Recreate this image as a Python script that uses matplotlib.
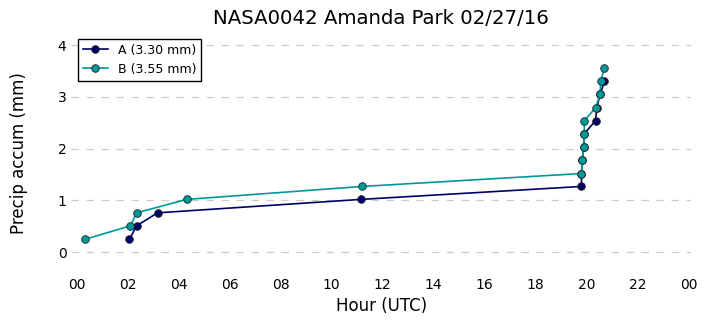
import matplotlib

matplotlib.use('Agg')
import matplotlib.pyplot as plt

# gauge A
A_HOURS = [2.08, 2.36, 3.18, 11.15, 19.80, 19.80, 19.83, 19.88, 19.91, 20.35, 20.40, 20.53, 20.70]
A_ACCUM = [0.25, 0.51, 0.76, 1.02, 1.27, 1.52, 1.78, 2.03, 2.29, 2.54, 2.79, 3.05, 3.30]

# gauge B
B_HOURS = [0.35, 2.12, 2.36, 4.32, 11.20, 19.80, 19.83, 19.88, 19.91, 19.91, 20.35, 20.53, 20.55, 20.70]
B_ACCUM = [0.25, 0.51, 0.76, 1.02, 1.27, 1.52, 1.78, 2.03, 2.29, 2.54, 2.79, 3.05, 3.30, 3.56]

LABELS = ["A (3.30 mm)", "B (3.55 mm)"]
X_TICKS = list(range(0, 25, 2))
X_TICKLABELS = ["00", "02", "04", "06", "08", "10", "12", "14", "16", "18", "20", "22", "00"]
Y_TICKS = [0, 1, 2, 3, 4]

fig = plt.figure(figsize=(7.06, 3.26), dpi=100)
ax = fig.add_axes([0.101, 0.163, 0.878, 0.738])

ax.plot(A_HOURS, A_ACCUM, '-o', color='#000066', markersize=5.5, linewidth=1.2,
        markeredgecolor='#222222', markeredgewidth=0.6, label=LABELS[0])
ax.plot(B_HOURS, B_ACCUM, '-o', color='#009999', markersize=5.5, linewidth=1.2,
        markeredgecolor='#222222', markeredgewidth=0.6, label=LABELS[1])

ax.set_xlim(-0.2, 24.1)
ax.set_ylim(-0.4, 4.25)
ax.set_xticks(X_TICKS)
ax.set_xticklabels(X_TICKLABELS)
ax.set_yticks(Y_TICKS)
ax.tick_params(length=0, pad=3.5, labelsize=10)
for s in ax.spines.values():
    s.set_visible(False)
ax.yaxis.grid(True, linestyle=(0, (6, 6)), color='#cccccc', linewidth=0.9)
ax.set_axisbelow(True)

ax.set_title("NASA0042 Amanda Park 02/27/16", fontsize=14.2)
ax.set_xlabel("Hour (UTC)", fontsize=12)
ax.set_ylabel("Precip accum (mm)", fontsize=12, labelpad=21)

leg = ax.legend(loc='upper left', fontsize=9, fancybox=False, framealpha=1,
                borderaxespad=0.5)
leg.get_frame().set_edgecolor('black')

fig.savefig('out.png', dpi=100)
